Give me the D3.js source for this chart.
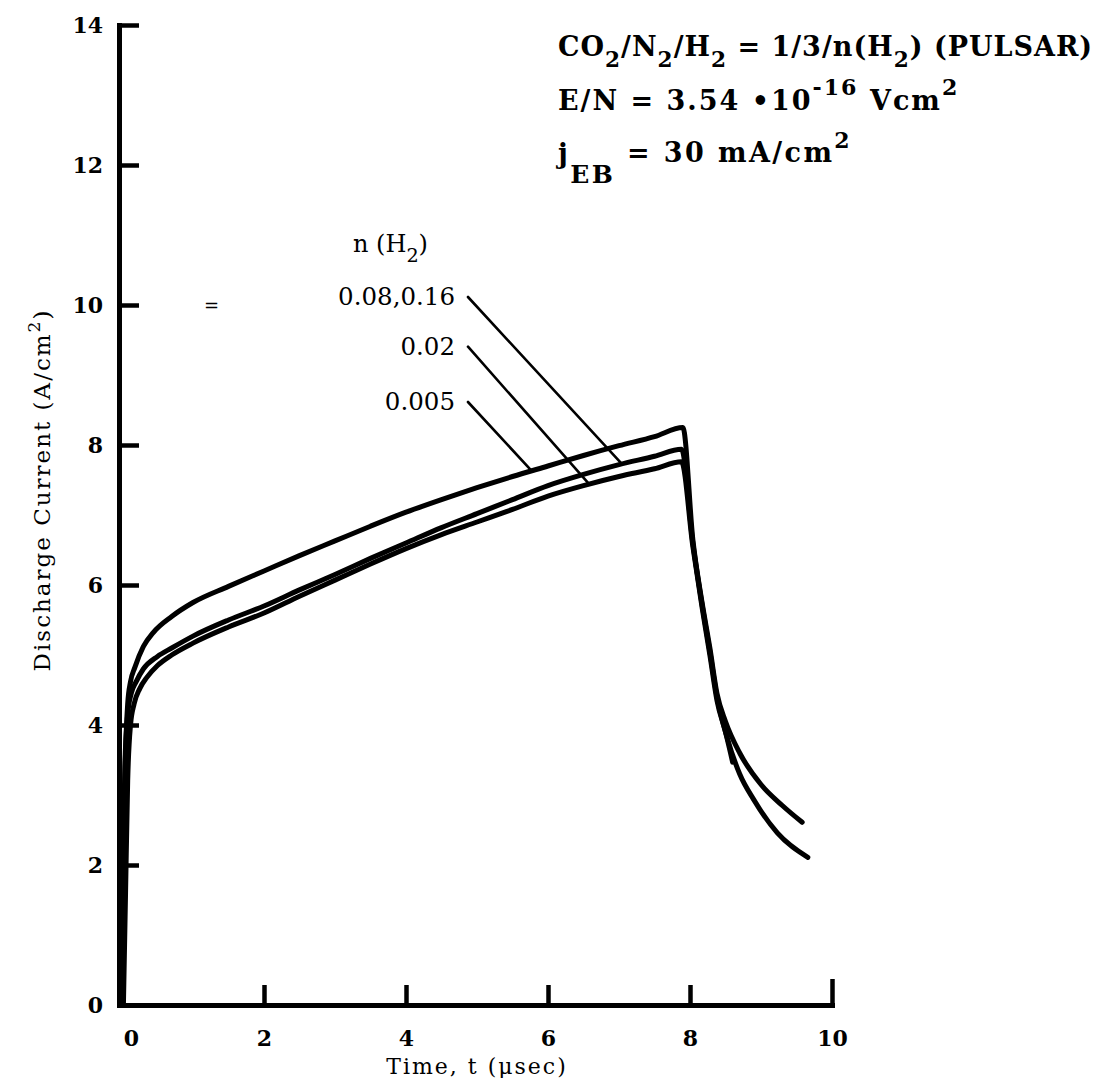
<!DOCTYPE html>
<html>
<head>
<meta charset="utf-8">
<script src="https://cdn.jsdelivr.net/npm/d3@7"></script>
<style>
  html, body { margin: 0; padding: 0; background: #fff; }
  svg { display: block; }
</style>
</head>
<body>
<svg id="chart" width="1098" height="1078"></svg>
<script>
// Discharge current vs time for three H2 admixtures, read at fixed E/N.
const seriesNames = ["0.005", "0.08,0.16", "0.02"];

// n(H2) = 0.005 (upper curve through the pulse)
const timeA    = [0, 0.02, 0.05, 0.08, 0.12, 0.18, 0.3, 0.44, 0.7, 1.0, 1.5, 2.0, 2.5, 3.0, 3.5, 4.0, 4.5, 5.0, 5.5, 6.0, 6.5, 7.0, 7.5, 7.9,
                  8.04, 8.17, 8.28, 8.38, 8.5, 8.7, 9.0, 9.3, 9.58];
const currentA = [0, 2.0, 3.6, 4.3, 4.62, 4.82, 5.12, 5.32, 5.55, 5.75, 5.98, 6.2, 6.42, 6.63, 6.84, 7.04, 7.22, 7.39, 7.55, 7.7, 7.85, 7.99, 8.12, 8.25,
                  6.65, 5.75, 5.1, 4.45, 4.05, 3.6, 3.15, 2.85, 2.61];

// n(H2) = 0.08, 0.16
const timeB    = [-0.02, 0.01, 0.04, 0.08, 0.13, 0.2, 0.3, 0.5, 0.7, 1.0, 1.5, 2.0, 2.5, 3.0, 3.5, 4.0, 4.5, 5.0, 5.5, 6.0, 6.5, 7.0, 7.5, 7.88,
                  8.04, 8.17, 8.28, 8.38, 8.52, 8.7, 8.9, 9.23, 9.66];
const currentB = [0, 1.8, 3.4, 4.15, 4.45, 4.62, 4.8, 4.98, 5.1, 5.27, 5.5, 5.7, 5.93, 6.15, 6.38, 6.6, 6.82, 7.02, 7.22, 7.42, 7.58, 7.72, 7.84, 7.94,
                  6.6, 5.72, 5.05, 4.4, 3.83, 3.3, 2.93, 2.46, 2.11];

// n(H2) = 0.02
const timeC    = [0.02, 0.05, 0.08, 0.12, 0.17, 0.25, 0.35, 0.5, 0.7, 1.0, 1.5, 2.0, 2.5, 3.0, 3.5, 4.0, 4.5, 5.0, 5.5, 6.0, 6.5, 7.0, 7.5, 7.88,
                  8.04, 8.17, 8.28, 8.38, 8.5, 8.6];
const currentC = [0, 1.6, 3.2, 4.0, 4.3, 4.52, 4.68, 4.85, 5.0, 5.17, 5.4, 5.6, 5.84, 6.07, 6.3, 6.52, 6.72, 6.9, 7.08, 7.27, 7.42, 7.55, 7.66, 7.76,
                  6.55, 5.68, 5.0, 4.35, 3.9, 3.47];

const xTickValues = [0, 2, 4, 6, 8, 10];
const yTickValues = [0, 2, 4, 6, 8, 10, 12, 14];

// label anchor (right edge of text, in data units) and where each leader meets its curve
const labelTime    = [4.69, 4.69, 4.69];
const labelCurrent = [8.5, 10.0, 9.29];
const leaderTime   = [5.77, 7.04, 6.58];

const series = [
  { name: seriesNames[0], t: timeA, j: currentA },
  { name: seriesNames[1], t: timeB, j: currentB },
  { name: seriesNames[2], t: timeC, j: currentC }
];

const svg = d3.select("#chart");
const width = 1098, height = 1078;
svg.append("rect").attr("width", width).attr("height", height).attr("fill", "#fff");

const x = d3.scaleLinear().domain([0, 10]).range([122, 832]);
const y = d3.scaleLinear().domain([0, 14]).range([1005, 25]);

const serif = "'DejaVu Serif', 'Liberation Serif', serif";

// ---- axes ----
const yAxis = d3.axisLeft(y).tickValues(yTickValues).tickSizeInner(-20).tickSizeOuter(0).tickPadding(16);
const gy = svg.append("g").attr("transform", "translate(119,0)").call(yAxis);
gy.select(".domain").attr("stroke", "#000").attr("stroke-width", 5).attr("stroke-linecap", "square");
gy.selectAll(".tick line").attr("stroke", "#000").attr("stroke-width", 4.5);
gy.selectAll(".tick").filter(d => d === 0).select("line").remove();
gy.selectAll(".tick text").attr("font-family", serif).attr("font-weight", "bold").attr("font-size", 22).attr("fill", "#000");

const xAxis = d3.axisBottom(x).tickValues(xTickValues).tickSizeInner(-20).tickSizeOuter(0).tickPadding(25);
const gx = svg.append("g").attr("transform", "translate(0,1005)").call(xAxis);
gx.select(".domain").attr("stroke", "#000").attr("stroke-width", 5).attr("stroke-linecap", "square");
gx.selectAll(".tick line").attr("stroke", "#000").attr("stroke-width", 4.5);
gx.selectAll(".tick").filter(d => d === 0).select("line").remove();
gx.selectAll(".tick").filter(d => d === 10).select("line").attr("y2", -26);
gx.selectAll(".tick text").attr("font-family", serif).attr("font-weight", "bold").attr("font-size", 22).attr("fill", "#000");
gx.selectAll(".tick").filter(d => d === 0).select("text").attr("dx", 9);

// ---- curves ----
const line = d3.line()
  .x(d => x(d[0]))
  .y(d => y(d[1]))
  .curve(d3.curveMonotoneX);

svg.append("g").selectAll("path")
  .data(series)
  .join("path")
  .attr("d", s => line(s.t.map((t, i) => [t, s.j[i]])))
  .attr("fill", "none")
  .attr("stroke", "#000")
  .attr("stroke-width", 5)
  .attr("stroke-linejoin", "round")
  .attr("stroke-linecap", "round");

// ---- curve labels with leaders ----
function valueAt(s, t) {
  const i = d3.bisectLeft(s.t, t);
  const i0 = Math.max(0, i - 1), i1 = Math.min(s.t.length - 1, i);
  if (i0 === i1) return s.j[i0];
  const f = (t - s.t[i0]) / (s.t[i1] - s.t[i0]);
  return s.j[i0] + f * (s.j[i1] - s.j[i0]);
}

const labels = svg.append("g");
series.forEach((s, k) => {
  const lx = x(labelTime[k]), ly = y(labelCurrent[k]);
  labels.append("text")
    .attr("x", lx).attr("y", ly)
    .attr("text-anchor", "end")
    .attr("font-family", serif).attr("font-size", 24.5).attr("fill", "#000")
    .text(s.name);
  labels.append("line")
    .attr("x1", lx + 13).attr("y1", ly - 8)
    .attr("x2", x(leaderTime[k])).attr("y2", y(valueAt(s, leaderTime[k])))
    .attr("stroke", "#000").attr("stroke-width", 2.6).attr("stroke-linecap", "round");
});

// ---- rich text helper (subscripts / superscripts) ----
function richText(parent, px, py, parts, size, weight, spacing) {
  const t = parent.append("text")
    .attr("x", px).attr("y", py)
    .attr("font-family", serif).attr("font-size", size)
    .attr("font-weight", weight).attr("fill", "#000")
    .attr("letter-spacing", spacing || 0);
  let cur = 0;
  parts.forEach(p => {
    let off = 0, fs = size;
    if (p.sub) { off = size * 0.42; fs = size * 0.8; }
    if (p.sup) { off = -size * 0.55; fs = size * 0.82; }
    if (p.off !== undefined) off = p.off;
    if (p.fs !== undefined) fs = p.fs;
    t.append("tspan").attr("dy", off - cur).attr("font-size", fs).text(p.t);
    cur = off;
  });
  return t;
}

// legend heading
richText(svg, 353, 252, [{ t: "n (H" }, { t: "2", sub: true }, { t: ")" }], 24, "normal", 0);

// stray mark at left of the legend
svg.append("text").attr("x", 204).attr("y", 312)
  .attr("font-family", serif).attr("font-size", 18).attr("fill", "#000").text("=");

// conditions block
const info = svg.append("g");
richText(info, 558, 56, [
  { t: "CO" }, { t: "2", sub: true }, { t: "/N" }, { t: "2", sub: true },
  { t: "/H" }, { t: "2", sub: true }, { t: " = 1/3/n(H" }, { t: "2", sub: true },
  { t: ") (PULSAR)" }
], 27, "bold", 1.0);
richText(info, 558, 110, [
  { t: "E/N = 3.54 •10" }, { t: "-16", sup: true }, { t: " Vcm" }, { t: "2", sup: true }
], 27, "bold", 2.0);
richText(info, 558, 163, [
  { t: "j" }, { t: "EB", off: 20, fs: 25 }, { t: " = 30 mA/cm", off: -1, fs: 27 }, { t: "2", off: -15, fs: 22 }
], 27, "bold", 2.4);

// ---- axis titles ----
svg.append("text")
  .attr("x", 477).attr("y", 1074)
  .attr("text-anchor", "middle")
  .attr("font-family", serif).attr("font-size", 22).attr("letter-spacing", 2).attr("fill", "#000")
  .text("Time, t (\u03bcsec)");

const yt = svg.append("text")
  .attr("transform", "translate(50,490) rotate(-90)")
  .attr("text-anchor", "middle")
  .attr("font-family", serif).attr("font-size", 23).attr("letter-spacing", 2).attr("fill", "#000");
yt.append("tspan").text("Discharge Current (A/cm");
yt.append("tspan").attr("dy", -10).attr("font-size", 17).text("2");
yt.append("tspan").attr("dy", 10).text(")");
</script>
</body>
</html>
